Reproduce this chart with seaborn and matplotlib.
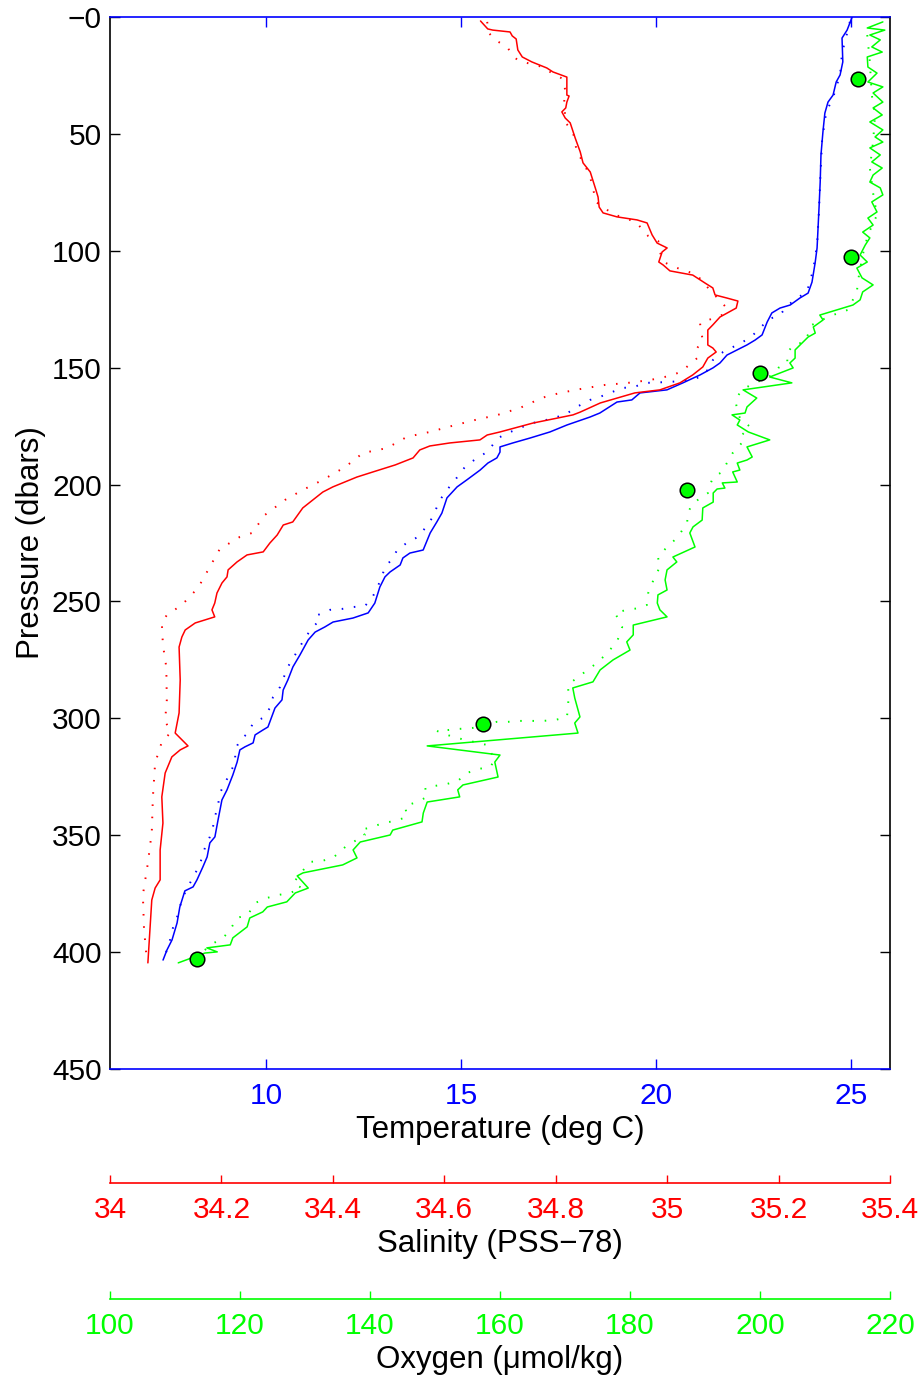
import numpy as np
import matplotlib
matplotlib.use("Agg")
import matplotlib.pyplot as plt
import seaborn as sns

# ---------------- data ----------------
# CTD temperature, solid line (pressure dbar / deg C)
temp_p = [0, 2.6, 5.6, 9.0, 19.2, 24.8, 27.8, 33.4, 36.4, 41.1,
          49.2, 59.0, 70.6, 81.7, 92.0, 98.8, 105.2, 113.4, 118.1, 120.2,
          123.2, 124.5, 126.6, 130.5, 136.0, 138.2, 140.3, 142.4, 144.6, 148.0,
          150.1, 153.1, 156.5, 159.5, 160.8, 163.8, 164.7, 169.4, 171.1, 174.5,
          177.5, 180.1, 182.2, 183.9, 186.1, 188.6, 190.8, 193.8, 198.0, 201.0,
          205.7, 212.2, 216.0, 220.7, 228.0, 229.3, 231.4, 234.4, 237.4, 239.5,
          243.8, 250.7, 254.9, 257.1, 258.8, 260.9, 263.1, 266.5, 272.9, 278.0,
          283.6, 287.9, 292.1, 295.6, 303.7, 305.0, 307.1, 310.5, 312.2, 313.5,
          318.7, 324.2, 330.6, 334.9, 343.5, 350.7, 353.3, 359.3, 363.6, 369.1,
          372.1, 373.8, 380.7, 387.5, 394.8, 399.1, 403.4]
temp = [25.03, 24.97, 24.90, 24.77, 24.79, 24.72, 24.62, 24.54, 24.41, 24.33,
        24.28, 24.23, 24.21, 24.18, 24.15, 24.13, 24.08, 24.00, 23.90, 23.69,
        23.44, 23.18, 22.97, 22.85, 22.72, 22.54, 22.33, 22.08, 21.82, 21.64,
        21.46, 21.13, 20.69, 20.28, 19.59, 19.38, 19.00, 18.56, 18.31, 17.72,
        17.28, 16.77, 16.33, 16.00, 16.00, 15.92, 15.69, 15.49, 15.15, 14.90,
        14.64, 14.51, 14.38, 14.21, 14.03, 13.69, 13.51, 13.44, 13.18, 13.05,
        12.92, 12.79, 12.62, 12.23, 11.72, 11.51, 11.26, 11.08, 10.87, 10.69,
        10.56, 10.44, 10.41, 10.23, 10.05, 9.92, 9.72, 9.67, 9.46, 9.33,
        9.26, 9.15, 9.00, 8.87, 8.77, 8.69, 8.56, 8.49, 8.38, 8.23,
        8.13, 7.92, 7.79, 7.72, 7.59, 7.46, 7.36]

# second temperature profile, dotted line
tdot_p = [2.1, 5.6, 15.4, 24.8, 33.4, 41.1, 52.6, 69.7, 82.6, 97.5,
          108.2, 117.6, 120.2, 123.6, 127.5, 129.2, 136.0, 139.0, 141.2, 143.3,
          146.7, 150.1, 154.0, 155.3, 156.1, 156.5, 158.3, 158.7, 160.8, 162.5,
          163.8, 167.2, 170.2, 171.5, 172.8, 173.7, 175.8, 177.9, 180.1, 186.1,
          188.6, 192.5, 198.0, 202.3, 206.6, 214.3, 218.6, 222.4, 224.6, 228.0,
          231.4, 235.3, 239.5, 244.2, 248.5, 251.9, 252.4, 253.2, 253.6, 255.8,
          257.9, 261.4, 265.6, 270.8, 278.0, 286.6, 290.9, 295.6, 299.8, 302.0,
          306.3, 309.3, 313.5, 318.7, 323.4, 327.6, 331.9, 337.1, 342.2, 346.5,
          350.7, 355.0, 359.7, 364.0, 367.9, 376.4, 380.7, 385.0, 389.2, 394.8,
          399.1, 403.4]
tdot = [24.97, 24.92, 24.77, 24.72, 24.56, 24.36, 24.26, 24.21, 24.18, 24.13,
        24.03, 23.87, 23.62, 23.36, 23.18, 22.90, 22.49, 22.23, 21.97, 21.72,
        21.46, 21.38, 21.13, 20.87, 20.36, 19.77, 19.41, 19.13, 18.82, 18.56,
        18.31, 17.92, 17.67, 17.36, 17.10, 16.82, 16.51, 16.21, 15.95, 15.67,
        15.41, 15.10, 14.85, 14.64, 14.46, 14.26, 14.08, 13.90, 13.64, 13.36,
        13.26, 13.05, 12.97, 12.85, 12.72, 12.54, 12.23, 11.95, 11.64, 11.33,
        11.38, 11.18, 11.00, 10.82, 10.56, 10.36, 10.18, 10.10, 9.92, 9.67,
        9.54, 9.33, 9.21, 9.21, 9.08, 8.95, 8.82, 8.77, 8.69, 8.64,
        8.56, 8.44, 8.36, 8.26, 8.13, 7.87, 7.79, 7.72, 7.62, 7.54,
        7.46, 7.36]

# salinity, solid line (PSS-78)
sal_p = [1.7, 5.1, 5.6, 6.4, 8.1, 9.4, 14.1, 17.1, 19.2, 21.8,
         23.5, 25.7, 33.4, 33.8, 36.4, 38.9, 40.6, 43.2, 45.3, 51.8,
         57.7, 62.4, 66.3, 73.1, 77.0, 81.3, 83.8, 85.5, 86.8, 88.1,
         93.2, 96.7, 98.8, 100.5, 104.8, 106.1, 108.6, 110.4, 113.8, 115.9,
         118.9, 120.2, 121.5, 124.5, 128.3, 131.7, 133.9, 140.3, 141.6, 143.3,
         145.9, 149.7, 153.1, 156.5, 159.5, 160.8, 165.1, 169.0, 170.2, 173.7,
         177.5, 178.8, 180.9, 182.2, 183.5, 185.2, 188.6, 191.6, 194.6, 196.8,
         201.0, 203.2, 206.6, 210.0, 216.0, 217.3, 221.6, 225.0, 228.8, 230.1,
         233.1, 236.5, 239.5, 242.1, 246.4, 250.7, 253.6, 256.6, 259.2, 262.2,
         265.2, 269.5, 283.6, 297.7, 306.3, 311.8, 313.5, 316.5, 323.4, 333.6,
         344.8, 356.3, 369.1, 372.6, 377.7, 389.2, 404.6]
sal = [34.665, 34.678, 34.687, 34.718, 34.722, 34.729, 34.732, 34.740, 34.757, 34.784,
       34.795, 34.820, 34.820, 34.824, 34.820, 34.818, 34.811, 34.817, 34.826, 34.835,
       34.844, 34.849, 34.862, 34.871, 34.876, 34.878, 34.885, 34.910, 34.946, 34.964,
       34.973, 34.982, 35.000, 34.991, 34.985, 34.993, 35.005, 35.046, 35.068, 35.082,
       35.086, 35.107, 35.127, 35.124, 35.095, 35.082, 35.073, 35.073, 35.082, 35.088,
       35.073, 35.064, 35.046, 35.023, 34.987, 34.942, 34.880, 34.844, 34.831, 34.759,
       34.700, 34.677, 34.664, 34.610, 34.574, 34.556, 34.544, 34.512, 34.472, 34.443,
       34.400, 34.382, 34.364, 34.346, 34.328, 34.311, 34.300, 34.287, 34.275, 34.246,
       34.228, 34.212, 34.210, 34.201, 34.192, 34.188, 34.183, 34.188, 34.153, 34.135,
       34.129, 34.124, 34.126, 34.124, 34.117, 34.140, 34.126, 34.111, 34.099, 34.093,
       34.095, 34.090, 34.090, 34.081, 34.075, 34.072, 34.068]

# second salinity profile, dotted line
sdot_p = [2.1, 6.8, 9.8, 12.8, 16.7, 18.8, 20.1, 21.4, 24.0, 26.5,
          31.2, 36.8, 45.3, 49.2, 57.7, 62.0, 66.3, 71.0, 79.1, 84.3,
          87.7, 93.7, 95.8, 100.5, 104.8, 106.9, 108.6, 110.4, 113.4, 116.8,
          124.5, 127.5, 129.2, 130.9, 134.7, 138.2, 141.6, 145.9, 148.9, 151.8,
          153.6, 155.3, 156.5, 157.4, 159.1, 160.8, 162.5, 164.7, 167.2, 170.2,
          172.4, 174.9, 177.5, 179.6, 184.4, 186.5, 192.5, 198.0, 202.3, 206.6,
          213.0, 220.7, 222.4, 227.6, 235.3, 244.2, 251.5, 255.8, 259.2, 268.6,
          278.0, 292.1, 300.7, 306.3, 310.1, 319.1, 333.6, 348.6, 361.9, 375.6,
          389.7, 403.3]
sdot = [34.677, 34.680, 34.691, 34.713, 34.723, 34.734, 34.756, 34.777, 34.793, 34.813,
        34.817, 34.815, 34.818, 34.831, 34.838, 34.849, 34.858, 34.865, 34.872, 34.903,
        34.944, 34.966, 34.984, 34.987, 34.994, 35.012, 35.034, 35.054, 35.064, 35.077,
        35.107, 35.098, 35.079, 35.059, 35.061, 35.064, 35.054, 35.054, 35.039, 35.025,
        35.003, 34.969, 34.930, 34.888, 34.845, 34.808, 34.781, 34.759, 34.736, 34.696,
        34.655, 34.614, 34.574, 34.533, 34.497, 34.454, 34.422, 34.382, 34.346, 34.314,
        34.278, 34.255, 34.233, 34.197, 34.179, 34.158, 34.129, 34.102, 34.093, 34.095,
        34.101, 34.102, 34.099, 34.108, 34.093, 34.081, 34.077, 34.075, 34.068, 34.059,
        34.061, 34.066]

# oxygen, solid line (umol/kg)
oxy_p = [2.1, 4.7, 5.6, 7.7, 9.8, 12.8, 15.0, 17.1, 21.4, 24.0,
         27.8, 29.9, 32.5, 36.4, 38.9, 41.9, 44.9, 48.3, 51.3, 53.5,
         56.0, 59.0, 62.0, 64.6, 67.6, 70.6, 73.1, 76.1, 79.1, 83.4,
         86.0, 89.0, 92.0, 94.5, 97.5, 101.8, 104.8, 107.4, 111.6, 114.6,
         117.6, 121.0, 123.2, 127.5, 129.6, 132.6, 135.2, 136.9, 142.4, 145.9,
         148.0, 150.1, 154.0, 156.5, 159.5, 163.0, 166.8, 169.4, 170.2, 172.4,
         174.5, 177.5, 180.9, 183.9, 188.2, 189.5, 190.8, 193.8, 194.6, 198.9,
         199.3, 201.5, 201.9, 203.6, 207.5, 210.0, 215.2, 218.1, 220.7, 226.7,
         231.0, 233.1, 236.5, 240.8, 245.1, 247.2, 250.7, 253.6, 256.6, 260.1,
         264.3, 267.3, 270.8, 275.0, 279.3, 284.4, 287.0, 291.3, 299.4, 302.0,
         306.3, 311.8, 315.7, 318.7, 325.1, 328.5, 330.6, 333.6, 335.8,
         340.5, 344.3, 347.8, 349.9, 352.9, 356.3, 359.7, 362.7, 366.1, 367.4,
         372.6, 374.7, 378.5, 380.7, 382.8, 385.4, 389.2, 393.9, 396.9, 398.2,
         399.9, 400.4, 404.6]
oxy = [218.9, 216.5, 219.2, 216.9, 218.5, 217.2, 218.8, 216.5, 216.6, 218.0,
       216.6, 218.9, 217.4, 218.9, 217.4, 218.8, 216.9, 218.9, 217.7, 218.9,
       216.9, 218.5, 217.2, 218.8, 217.4, 216.9, 218.5, 218.9, 217.2, 218.0,
       216.6, 217.4, 215.8, 216.9, 216.2, 215.4, 216.5, 214.9, 215.7, 217.4,
       215.8, 215.4, 214.3, 209.2, 209.7, 208.2, 208.5, 207.4, 205.4, 205.4,
       204.6, 205.1, 201.5, 204.9, 197.4, 199.5, 198.0, 197.7, 195.7, 196.9,
       196.5, 198.2, 201.5, 198.0, 198.8, 198.0, 196.5, 196.9, 195.8, 196.5,
       194.2, 194.6, 193.4, 192.8, 192.8, 191.2, 191.1, 189.7, 189.2, 190.0,
       186.6, 187.2, 185.7, 185.4, 185.7, 184.3, 184.2, 184.6, 185.7, 180.5,
       180.5, 179.5, 180.0, 177.4, 175.4, 174.3, 171.2, 171.5, 172.3, 171.5,
       172.0, 148.8, 160.0, 159.2, 159.7, 154.3, 153.5, 153.8, 148.8,
       148.2, 148.0, 143.5, 143.1, 138.5, 137.4, 138.0, 135.8, 129.7, 128.8,
       130.5, 128.5, 127.2, 124.2, 123.5, 121.5, 121.1, 118.9, 118.5, 114.9,
       116.5, 114.6, 110.5]

# second oxygen profile, dotted line
odot_p = [7.7, 19.2, 33.4, 41.9, 53.5, 64.6, 75.3, 84.7, 93.2, 101.8,
          112.5, 117.6, 125.3, 127.5, 129.6, 131.7, 139.0, 140.3, 143.7, 148.0,
          150.1, 154.8, 156.1, 158.7, 160.8, 163.8, 168.1, 171.5, 175.4, 179.6,
          182.2, 186.5, 190.8, 194.6, 196.8, 200.2, 203.6, 205.7, 208.7, 212.2,
          216.0, 222.4, 226.7, 231.0, 235.3, 239.5, 246.4, 251.5, 252.8, 253.6,
          254.9, 260.9, 267.3, 272.9, 276.3, 279.3, 282.7, 285.7, 290.0, 294.3,
          299.4, 300.7, 301.1, 301.1, 301.1, 301.5, 301.5, 304.1, 304.5, 305.0,
          305.4, 308.0, 311.4, 317.8, 320.8, 321.7, 323.4, 326.8, 328.1, 328.9,
          329.8, 333.6, 335.8, 337.5, 342.2, 343.9, 344.8, 346.5, 347.8, 349.9,
          355.0, 359.7, 361.0, 361.4, 365.7, 370.4, 372.6, 374.7, 375.6, 376.8,
          379.0, 384.1, 385.4, 390.5, 393.9, 397.0, 401.2]
odot = [216.5, 216.9, 217.2, 217.7, 217.4, 216.9, 217.4, 218.0, 216.6, 215.8,
        215.1, 214.9, 213.5, 211.2, 209.5, 208.0, 206.9, 205.1, 204.2, 204.2,
        202.8, 201.1, 199.5, 197.7, 196.9, 196.2, 196.5, 196.9, 198.5, 196.9,
        197.2, 195.8, 194.9, 194.2, 192.8, 192.3, 192.0, 190.8, 189.5, 188.9,
        188.8, 187.4, 185.7, 184.3, 184.6, 183.8, 182.8, 182.6, 181.5, 179.5,
        177.7, 178.8, 178.0, 176.2, 174.9, 173.5, 171.8, 170.5, 170.5, 170.5,
        170.3, 168.5, 166.6, 164.9, 163.1, 161.2, 159.5, 155.8, 153.8, 152.0,
        150.3, 152.8, 158.0, 159.2, 158.5, 156.6, 154.9, 153.5, 151.8, 150.0,
        148.5, 148.8, 147.2, 145.4, 145.7, 143.8, 142.0, 140.3, 138.5, 139.2,
        136.2, 134.3, 132.6, 130.8, 129.5, 128.2, 129.5, 127.7, 125.8, 124.2,
        122.3, 121.2, 119.5, 118.5, 117.4, 115.4, 113.8]

# bottle oxygen samples
bottle_p = [26.5, 102.7, 152.3, 202.3, 302.4, 402.9]
bottle_oxy = [215.1, 214.0, 200.0, 188.8, 157.4, 113.4]

# axis ticks
p_ticks = [0, 50, 100, 150, 200, 250, 300, 350, 400, 450]
p_labels = ["\u22120", "50", "100", "150", "200", "250", "300", "350", "400", "450"]
t_ticks = [10, 15, 20, 25]
s_ticks = [34.0, 34.2, 34.4, 34.6, 34.8, 35.0, 35.2, 35.4]
s_labels = ["34", "34.2", "34.4", "34.6", "34.8", "35", "35.2", "35.4"]
o_ticks = [100, 120, 140, 160, 180, 200, 220]

# ---------------- style ----------------
sns.set_theme(style="white")
plt.rcParams['font.family'] = ['Liberation Sans', 'DejaVu Sans']
plt.rcParams['axes.unicode_minus'] = True

BLUE = (0, 0, 1)
RED = (1, 0, 0)
GREEN = (0, 1, 0)
TICK_FS = 21.5
LAB_FS = 22.5

FW, FH = 920, 1375
fig = plt.figure(figsize=(FW / 100, FH / 100), dpi=100)
fig.patch.set_facecolor("white")

L = 110 / FW
W = (890 - 110) / FW


def fy(py):
    return 1 - py / FH


ax = fig.add_axes([L, fy(1069), W, fy(17) - fy(1069)])
ax_s = ax.twiny()
ax_o = ax.twiny()

DOT = (0, (0.8, 5.5))

# temperature
sns.lineplot(x=tdot, y=tdot_p, ax=ax, sort=False, estimator=None, color=BLUE,
             lw=1.4, linestyle=DOT)
sns.lineplot(x=temp, y=temp_p, ax=ax, sort=False, estimator=None, color=BLUE, lw=1.1)

# salinity
sns.lineplot(x=sdot, y=sdot_p, ax=ax_s, sort=False, estimator=None, color=RED,
             lw=1.4, linestyle=DOT)
sns.lineplot(x=sal, y=sal_p, ax=ax_s, sort=False, estimator=None, color=RED, lw=1.1)

# oxygen
sns.lineplot(x=odot, y=odot_p, ax=ax_o, sort=False, estimator=None, color=GREEN,
             lw=1.4, linestyle=DOT)
sns.lineplot(x=oxy, y=oxy_p, ax=ax_o, sort=False, estimator=None, color=GREEN, lw=1.1)
sns.scatterplot(x=bottle_oxy, y=bottle_p, ax=ax_o, s=110, color=GREEN,
                edgecolor="black", linewidth=1.1, zorder=6)

for a, lim in ((ax_s, (34.0, 35.4)), (ax_o, (100, 220))):
    a.set_xlim(*lim)
    a.set_axis_off()
    a.patch.set_alpha(0)

ax.set_xlim(6, 26)
ax.set_ylim(450, 0)
ax.set_yticks(p_ticks)
ax.set_yticklabels(p_labels)
ax.set_xticks(t_ticks)
ax.set_xticklabels([str(t) for t in t_ticks])

ax.tick_params(axis="x", which="both", bottom=True, top=True, labeltop=False,
               labelbottom=True, direction="in", length=7, width=1.0,
               color=BLUE, labelcolor=BLUE, labelsize=TICK_FS, pad=9)
ax.tick_params(axis="y", which="both", left=True, right=True, direction="in",
               length=7.5, width=1.0, color="black", labelcolor="black",
               labelsize=TICK_FS, pad=6)
for side in ("top", "bottom"):
    ax.spines[side].set_color(BLUE)
    ax.spines[side].set_linewidth(1.2)
    ax.spines[side].set_visible(True)
for side in ("left", "right"):
    ax.spines[side].set_color("black")
    ax.spines[side].set_linewidth(1.2)
    ax.spines[side].set_visible(True)
ax.grid(False)
ax.set_xlabel("Temperature (deg C)", fontsize=LAB_FS, color="black", labelpad=4)
ax.set_ylabel("Pressure (dbars)", fontsize=LAB_FS, color="black", labelpad=4)


def scale_axis(py, lim, ticks, labels, color, label):
    a = fig.add_axes([L, fy(py), W, 0.0005])
    a.patch.set_alpha(0)
    a.set_xlim(*lim)
    a.set_yticks([])
    for side in ("left", "right", "top"):
        a.spines[side].set_visible(False)
    a.spines["bottom"].set_visible(True)
    a.spines["bottom"].set_color(color)
    a.spines["bottom"].set_linewidth(1.2)
    a.set_xticks(ticks)
    a.set_xticklabels(labels)
    a.tick_params(axis="x", bottom=True, direction="in", length=6, width=1.0,
                  color=color, labelcolor=color, labelsize=TICK_FS, pad=9)
    a.grid(False)
    a.set_xlabel(label, fontsize=LAB_FS, color="black", labelpad=4)
    return a


scale_axis(1183, (34.0, 35.4), s_ticks, s_labels, RED, "Salinity (PSS\u221278)")
scale_axis(1299, (100, 220), o_ticks, [str(o) for o in o_ticks], GREEN,
           "Oxygen (\u03bcmol/kg)")

fig.savefig("out.png", dpi=100, facecolor="white")
